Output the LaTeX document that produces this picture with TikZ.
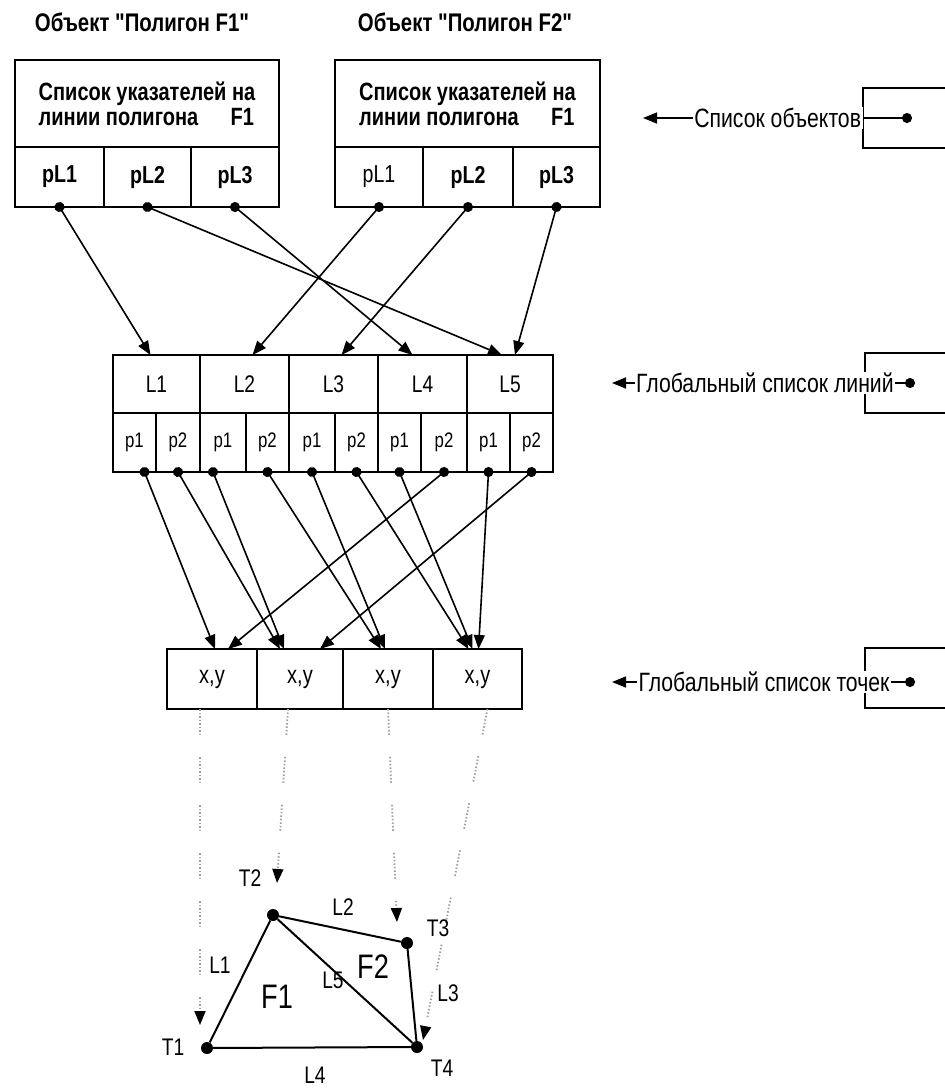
\documentclass[tikz,border=0pt]{standalone}
\usepackage{fontspec}
\usetikzlibrary{arrows.meta}
\newfontfamily\nar[FakeStretch=0.8,Ligatures=TeXOff]{Liberation Sans}
\newcommand\fsz[1]{\nar\fontsize{#1}{#1}\selectfont}
\begin{document}
\begin{tikzpicture}[x=1pt,y=-1pt,
  cell/.style={draw, line width=2.2pt, inner sep=0pt, outer sep=0pt},
  conn/.style={line width=1.6pt, shorten <=-5pt, {Circle[length=10pt]}-{Triangle[length=14pt,width=11pt]}},
  dotarr/.style={line width=1.8pt, gray!75, dash pattern=on 1.5pt off 2pt on 1.5pt off 2pt on 1.5pt off 2pt on 1.5pt off 2pt on 1.5pt off 2pt on 1.5pt off 2pt on 1.5pt off 2pt on 1.5pt off 22pt, -{Triangle[length=14pt,width=11pt]}, arrows={[black]}},
  edgeline/.style={line width=2pt},
  vert/.style={circle, fill, inner sep=0pt, minimum size=12pt},
  lab/.style={font=\fsz{24}, inner sep=0pt},
  big/.style={font=\fsz{34}, inner sep=0pt},
  side/.style={font=\fsz{26.5}, fill=white, inner sep=1.5pt}]
\useasboundingbox (0,0) rectangle (945,1088);
\fill[white] (0,0) rectangle (945,1088);

% titles
\node[font=\fsz{25.5}\bfseries, inner sep=0pt] (t1) at (142,22) {Объект "Полигон F1"};
\node[font=\fsz{25.5}\bfseries, inner sep=0pt] (t2) at (465,22) {Объект "Полигон F2"};

% polygon F1 object
\node[cell, minimum width=264pt, minimum height=87pt, align=left, font=\fsz{25}\bfseries] (F1h) at (147,103.5)
  {\fontsize{25}{32}\selectfont Список указателей на\\линии полигона\hspace{1.3em}F1};
\node[cell, minimum width=89pt, minimum height=60pt, font=\fsz{24.5}\bfseries] (F1a) at (59.5,177) {pL1};
\node[cell, minimum width=87pt, minimum height=60pt, font=\fsz{24.5}\bfseries] (F1b) at (147.5,177) {pL2};
\node[cell, minimum width=88pt, minimum height=60pt, font=\fsz{24.5}\bfseries] (F1c) at (235,177) {pL3};

% polygon F2 object
\node[cell, minimum width=265pt, minimum height=87pt, align=left, font=\fsz{25}\bfseries] (F2h) at (467.5,103.5)
  {\fontsize{25}{32}\selectfont Список указателей на\\линии полигона\hspace{1.3em}F1};
\node[cell, minimum width=88pt, minimum height=60pt, font=\fsz{24.5}] (F2a) at (379,177) {pL1};
\node[cell, minimum width=90pt, minimum height=60pt, font=\fsz{24.5}\bfseries] (F2b) at (468,177) {pL2};
\node[cell, minimum width=87pt, minimum height=60pt, font=\fsz{24.5}\bfseries] (F2c) at (556.5,177) {pL3};

% global list of lines
\node[cell, minimum width=87pt, minimum height=58pt, font=\fsz{24}] (L1) at (156.5,384) {L1};
\node[cell, minimum width=89pt, minimum height=58pt, font=\fsz{24}] (L2) at (244.5,384) {L2};
\node[cell, minimum width=89pt, minimum height=58pt, font=\fsz{24}] (L3) at (333.5,384) {L3};
\node[cell, minimum width=89pt, minimum height=58pt, font=\fsz{24}] (L4) at (422.5,384) {L4};
\node[cell, minimum width=86pt, minimum height=58pt, font=\fsz{24}] (L5) at (510,384) {L5};

\node[cell, minimum width=43pt, minimum height=59pt, font=\fsz{21}] (a1) at (134.5,442.5) {p1};
\node[cell, minimum width=44pt, minimum height=59pt, font=\fsz{21}] (b1) at (178,442.5) {p2};
\node[cell, minimum width=46pt, minimum height=59pt, font=\fsz{21}] (a2) at (223,442.5) {p1};
\node[cell, minimum width=43pt, minimum height=59pt, font=\fsz{21}] (b2) at (267.5,442.5) {p2};
\node[cell, minimum width=46pt, minimum height=59pt, font=\fsz{21}] (a3) at (312,442.5) {p1};
\node[cell, minimum width=43pt, minimum height=59pt, font=\fsz{21}] (b3) at (356.5,442.5) {p2};
\node[cell, minimum width=43pt, minimum height=59pt, font=\fsz{21}] (a4) at (399.5,442.5) {p1};
\node[cell, minimum width=46pt, minimum height=59pt, font=\fsz{21}] (b4) at (444,442.5) {p2};
\node[cell, minimum width=43pt, minimum height=59pt, font=\fsz{21}] (a5) at (488.5,442.5) {p1};
\node[cell, minimum width=43pt, minimum height=59pt, font=\fsz{21}] (b5) at (531.5,442.5) {p2};

% global list of points
\node[cell, minimum width=90pt, minimum height=60pt, font=\fsz{25}] (P1) at (212,679) {x,y};
\node[cell, minimum width=86pt, minimum height=60pt, font=\fsz{25}] (P2) at (300,679) {x,y};
\node[cell, minimum width=90pt, minimum height=60pt, font=\fsz{25}] (P3) at (388,679) {x,y};
\node[cell, minimum width=89pt, minimum height=60pt, font=\fsz{25}] (P4) at (477.5,679) {x,y};

% object pointers -> lines
\draw[conn] (F1a.south) -- ([xshift=-6pt]L1.north);
\draw[conn] (F1b.south) -- ([xshift=-8pt]L5.north);
\draw[conn] (F1c.south) -- ([xshift=-10pt]L4.north);
\draw[conn] (F2a.south) -- ([xshift=8pt]L2.north);
\draw[conn] (F2b.south) -- ([xshift=8pt]L3.north);
\draw[conn] (F2c.south) -- ([xshift=5pt]L5.north);

% line end points -> points
\draw[conn] ([xshift=10pt]a1.south) -- ([xshift=3pt]P1.north);
\draw[conn] (b1.south) -- ([xshift=-20pt]P2.north);
\draw[conn] ([xshift=-10pt]a2.south) -- ([xshift=-16pt]P2.north);
\draw[conn] (b2.south) -- ([xshift=-7pt]P3.north);
\draw[conn] (a3.south) -- ([xshift=-3pt]P3.north);
\draw[conn] (b3.south) -- ([xshift=-9pt]P4.north);
\draw[conn] (a4.south) -- ([xshift=-5pt]P4.north);
\draw[conn] (b4.south) -- ([xshift=16pt]P1.north);
\draw[conn] (a5.south) -- ([xshift=1pt]P4.north);
\draw[conn] (b5.south) -- ([xshift=20pt]P2.north);

% right side lists
\draw[line width=2.2pt] (945,88) -| (863,148) -- (945,148);
\draw[line width=2.2pt] (945,353) -| (865,413) -- (945,413);
\draw[line width=2.2pt] (945,648) -| (865,708) -- (945,708);
\coordinate (ro1) at (907,118); \coordinate (lo1) at (643,118);
\coordinate (ro2) at (910,383); \coordinate (lo2) at (612,383);
\coordinate (ro3) at (910,682); \coordinate (lo3) at (612,682);
\draw[conn] (ro1) -- node[side, pos=0.49] (s1) {Список объектов} (lo1);
\draw[conn] (ro2) -- node[side, pos=0.487] (s2) {Глобальный список линий} (lo2);
\draw[conn] (ro3) -- node[side, pos=0.49] (s3) {Глобальный список точек} (lo3);

% polygon drawing
\node[vert] (T1) at (207,1048) {};
\node[vert] (T2) at (273,915) {};
\node[vert] (T3) at (407,943) {};
\node[vert] (T4) at (417,1047) {};
\draw[edgeline] (T1) -- (T2);
\draw[edgeline] (T2) -- (T3);
\draw[edgeline] (T3) -- (T4);
\draw[edgeline] (T1) -- (T4);
\draw[edgeline] (T2) -- (T4);

\coordinate (d1) at (200,1025);
\coordinate (d2) at (277,883);
\coordinate (d3) at (397,922);
\coordinate (d4) at (423,1040);
\draw[dotarr] ([xshift=-12pt]P1.south) -- (d1);
\draw[dotarr] ([xshift=-12pt]P2.south) -- (d2);
\draw[dotarr] (P3.south) -- (d3);
\draw[dotarr] ([xshift=10pt]P4.south) -- (d4);

\node[lab] (lT1) at (173,1047) {T1};
\node[lab] (lT2) at (250,878) {T2};
\node[lab] (lT3) at (438,928) {T3};
\node[lab] (lT4) at (442,1068) {T4};
\node[lab] (lL1) at (220,965) {L1};
\node[lab] (lL2) at (343,907) {L2};
\node[lab] (lL3) at (448,993) {L3};
\node[lab] (lL4) at (315,1075) {L4};
\node[lab] (lL5) at (333,980) {L5};
\node[big] (lF1) at (277,997) {F1};
\node[big] (lF2) at (373,967) {F2};
\end{tikzpicture}
\end{document}
